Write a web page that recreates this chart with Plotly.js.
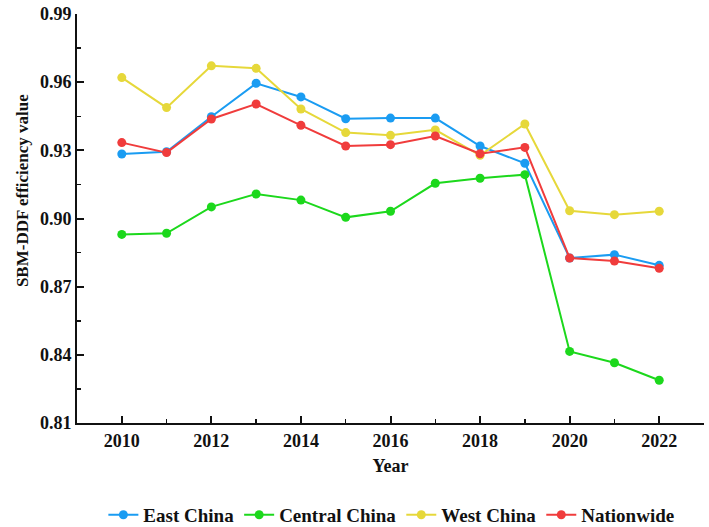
<!DOCTYPE html>
<html>
<head>
<meta charset="utf-8">
<script src="https://cdn.plot.ly/plotly-3.0.1.min.js"></script>
<style>html,body{margin:0;padding:0;background:#fff;}#chart{width:709px;height:527px;}</style>
</head>
<body>
<div id="chart"></div>
<script>
const years = [2010,2011,2012,2013,2014,2015,2016,2017,2018,2019,2020,2021,2022];
const eastChina = [0.9284,0.9294,0.9448,0.9595,0.9535,0.9439,0.9442,0.9442,0.9319,0.9243,0.8826,0.8841,0.8794];
const centralChina = [0.8930,0.8935,0.9051,0.9108,0.9081,0.9005,0.9032,0.9155,0.9177,0.9193,0.8415,0.8365,0.8288];
const westChina = [0.9620,0.9488,0.9672,0.9661,0.9482,0.9378,0.9366,0.9390,0.9278,0.9416,0.9034,0.9017,0.9032];
const nationwide = [0.9334,0.9290,0.9438,0.9504,0.9410,0.9319,0.9325,0.9363,0.9285,0.9313,0.8826,0.8813,0.8781];
const seriesNames = ["East China","Central China","West China","Nationwide"];
const seriesColors = ["#1a9cf2","#1cd81c","#e6d83a","#f03c3c"];
const seriesData = [eastChina, centralChina, westChina, nationwide];
const yTicks = [0.81,0.84,0.87,0.90,0.93,0.96,0.99];
const xTicks = [2010,2012,2014,2016,2018,2020,2022];
const yTitle = "SBM-DDF efficiency value";
const xTitle = "Year";

const font = "Liberation Serif, Times New Roman, serif";
const traces = seriesData.map((d,i)=>({
  x: years, y: d, name: seriesNames[i], type: "scatter", mode: "lines+markers",
  line: {color: seriesColors[i], width: 2},
  marker: {color: seriesColors[i], size: 9}
}));

const layout = {
  width: 709, height: 527,
  margin: {l: 77, r: 5, t: 14, b: 104, autoexpand: false},
  paper_bgcolor: "#fff", plot_bgcolor: "#fff",
  font: {family: font, color: "#111", size: 18},
  showlegend: true,
  legend: {orientation: "h", x: 0.552, xref: "container", xanchor: "center",
    y: 0.023, yref: "container", yanchor: "middle",
    font: {family: font, size: 19, color: "#111", weight: "bold"}, itemwidth: 30, tracegroupgap: 0},
  xaxis: {
    range: [2009, 2023], tickvals: xTicks, ticktext: xTicks.map(String),
    showgrid: false, zeroline: false, showline: true, linecolor: "#111", linewidth: 2,
    ticks: "inside", ticklen: 7, tickwidth: 2, tickcolor: "#111",
    tickfont: {family: font, size: 18, weight: "bold"},
    minor: {dtick: 1, tick0: 2009, ticks: "inside", ticklen: 4, tickwidth: 1.5, tickcolor: "#111"},
    title: {text: "<b>" + xTitle + "</b>", font: {family: font, size: 18}, standoff: 10}
  },
  yaxis: {
    range: [0.81, 0.99], tickvals: yTicks, ticktext: yTicks.map(v=>v.toFixed(2)),
    showgrid: false, zeroline: false, showline: true, linecolor: "#111", linewidth: 2,
    ticks: "inside", ticklen: 7, tickwidth: 2, tickcolor: "#111",
    tickfont: {family: font, size: 18, weight: "bold"},
    minor: {dtick: 0.015, tick0: 0.81, ticks: "inside", ticklen: 4, tickwidth: 1.5, tickcolor: "#111"}
  },
  annotations: [{
    text: "<b>" + yTitle + "</b>", textangle: -90, showarrow: false,
    xref: "paper", yref: "paper", x: -0.0877, y: 0.567, xanchor: "center", yanchor: "middle",
    font: {family: font, size: 17, color: "#111"}
  }]
};
Plotly.newPlot("chart", traces, layout, {displayModeBar: false, staticPlot: true});
</script>
</body>
</html>
